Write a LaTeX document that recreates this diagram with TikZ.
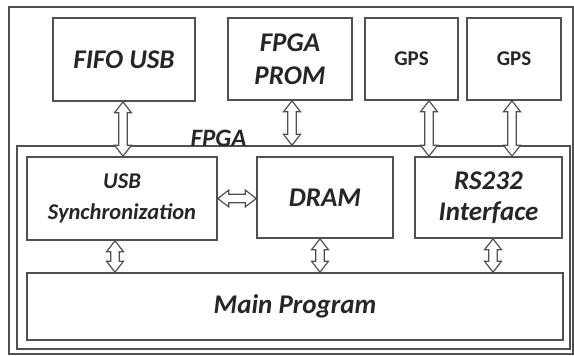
\documentclass[tikz,border=0pt]{standalone}
\usepackage{fontspec}
\setmainfont{Carlito}
\usetikzlibrary{calc}
\definecolor{linec}{HTML}{505050}
\definecolor{textc}{HTML}{262626}
\tikzset{
  box/.style={draw=linec, line width=1.6pt, rectangle, inner sep=0pt, text=textc, align=center},
  lbl/.style={font=\fontsize{27}{33}\selectfont\bfseries\itshape},
  gpsl/.style={font=\fontsize{21}{26}\selectfont\bfseries},
  dbl/.style={draw=linec, fill=white, line width=1.2pt, line join=miter,
    to path={
      let \p1=(\tikztostart), \p2=(\tikztotarget), \n1={atan2(\y2-\y1,\x2-\x1)} in
      (\p1)
      -- ($(\p1)+(\n1:11pt)+(\n1+90:8.5pt)$)
      -- ($(\p1)+(\n1:11pt)+(\n1+90:4.2pt)$)
      -- ($(\p2)+(\n1:-11pt)+(\n1+90:4.2pt)$)
      -- ($(\p2)+(\n1:-11pt)+(\n1+90:8.5pt)$)
      -- (\p2)
      -- ($(\p2)+(\n1:-11pt)+(\n1-90:8.5pt)$)
      -- ($(\p2)+(\n1:-11pt)+(\n1-90:4.2pt)$)
      -- ($(\p1)+(\n1:11pt)+(\n1-90:4.2pt)$)
      -- ($(\p1)+(\n1:11pt)+(\n1-90:8.5pt)$)
      -- cycle
    }}
}
\begin{document}
\begin{tikzpicture}[x=1pt,y=-1pt]
\useasboundingbox (0,0) rectangle (574,356);
\fill[white] (0,0) rectangle (574,356);
\node[box, line width=1.4pt, minimum width=564pt, minimum height=347pt] (outer) at (291,180.5) {};
\node[box, line width=1.4pt, minimum width=553pt, minimum height=203pt] (fpga) at (293.5,247.5) {};
\node[box, lbl, minimum width=142pt, minimum height=83pt] (fifo) at (124,59.5) {FIFO USB};
\node[box, lbl, minimum width=124pt, minimum height=82pt] (prom) at (290,59) {FPGA\\PROM};
\node[box, gpsl, minimum width=93pt, minimum height=82pt] (gps1) at (411.5,59) {GPS};
\node[box, gpsl, minimum width=94pt, minimum height=82pt] (gps2) at (514,59) {GPS};
\node[box, font=\fontsize{22.5}{31}\selectfont\bfseries\itshape, minimum width=190pt, minimum height=83pt] (usb) at (122,198.5) {USB\\Synchronization};
\node[box, lbl, minimum width=136pt, minimum height=81pt] (dram) at (325,197.5) {DRAM};
\node[box, font=\fontsize{27}{31}\selectfont\bfseries\itshape, minimum width=147pt, minimum height=81pt] (rs) at (488.5,197.5) {RS232\\Interface};
\node[box, lbl, minimum width=536pt, minimum height=67pt] (main) at (295,306.5) {Main Program};
\node[font=\fontsize{25}{30}\selectfont\bfseries\itshape, text=textc, anchor=base, inner sep=0pt] (fpgalbl) at (218.5,146) {FPGA};
\draw[dbl] ([xshift=-1pt]fifo.south) to ([xshift=-1pt]fifo.south |- usb.north);
\draw[dbl] ([xshift=2pt]prom.south) to ([xshift=2pt]prom.south |- fpga.north);
\draw[dbl] ([xshift=17.5pt]gps1.south) to ([xshift=17.5pt]gps1.south |- rs.north);
\draw[dbl] ([xshift=-2pt]gps2.south) to ([xshift=-2pt]gps2.south |- rs.north);
\draw[dbl] (usb.east) to (usb.east -| dram.west);
\draw[dbl] ([xshift=-7pt]usb.south) to ([xshift=-7pt]usb.south |- main.north);
\draw[dbl] ([xshift=-5pt]dram.south) to ([xshift=-5pt]dram.south |- main.north);
\draw[dbl] ([xshift=4.5pt]rs.south) to ([xshift=4.5pt]rs.south |- main.north);
\end{tikzpicture}
\end{document}
